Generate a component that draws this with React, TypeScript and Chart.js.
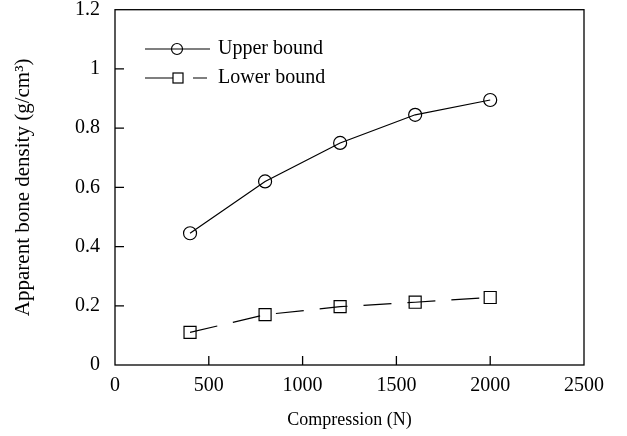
import React, { useEffect, useRef } from "react";
import { Chart, registerables } from "chart.js";

Chart.register(...registerables);

const compression = [400, 800, 1200, 1600, 2000];
const upperBound = [0.445, 0.62, 0.75, 0.845, 0.895];
const lowerBound = [0.11, 0.17, 0.197, 0.212, 0.228];
const seriesLabels = ["Upper bound", "Lower bound"];
const xTicks = [0, 500, 1000, 1500, 2000, 2500];
const xTickLabels = ["0", "500", "1000", "1500", "2000", "2500"];
const yTicks = [0, 0.2, 0.4, 0.6, 0.8, 1, 1.2];
const yTickLabels = ["0", "0.2", "0.4", "0.6", "0.8", "1", "1.2"];
const xTitle = "Compression (N)";
const yTitle = "Apparent bone density (g/cm³)";

const FONT = "'Liberation Serif', 'Times New Roman', serif";

const framePlugin = {
  id: "frameTicks",
  afterDraw(chart: any) {
    const { ctx, chartArea } = chart;
    const { left, right, top, bottom } = chartArea;
    ctx.save();
    ctx.strokeStyle = "#000";
    ctx.lineWidth = 1.3;
    ctx.strokeRect(left, top, right - left, bottom - top);
    const xs = chart.scales.x;
    const ys = chart.scales.y;
    ctx.beginPath();
    xTicks.forEach((v) => {
      if (v <= xs.min || v >= xs.max) return;
      const px = xs.getPixelForValue(v);
      ctx.moveTo(px, bottom);
      ctx.lineTo(px, bottom - 9);
    });
    yTicks.forEach((v) => {
      if (v <= ys.min || v >= ys.max) return;
      const py = ys.getPixelForValue(v);
      ctx.moveTo(left, py);
      ctx.lineTo(left + 9, py);
    });
    ctx.stroke();
    ctx.restore();
  },
};

const legendPlugin = {
  id: "insideLegend",
  afterDraw(chart: any) {
    const { ctx } = chart;
    ctx.save();
    ctx.strokeStyle = "#000";
    ctx.fillStyle = "#000";
    ctx.lineWidth = 1.2;
    ctx.font = `20px ${FONT}`;
    ctx.textBaseline = "middle";
    ctx.textAlign = "left";
    // row 1: upper bound (solid line, circle)
    const y1 = 49;
    ctx.beginPath();
    ctx.moveTo(145, y1);
    ctx.lineTo(210, y1);
    ctx.stroke();
    ctx.beginPath();
    ctx.arc(177, y1, 5.5, 0, Math.PI * 2);
    ctx.stroke();
    ctx.fillText(seriesLabels[0], 218, y1);
    // row 2: lower bound (dashed, square)
    const y2 = 78;
    ctx.beginPath();
    ctx.moveTo(145, y2);
    ctx.lineTo(173, y2);
    ctx.moveTo(193, y2);
    ctx.lineTo(207, y2);
    ctx.stroke();
    ctx.strokeRect(173, y2 - 5, 10, 10);
    ctx.fillText(seriesLabels[1], 218, y2);
    ctx.restore();
  },
};

export default function App() {
  const canvasRef = useRef<HTMLCanvasElement | null>(null);

  useEffect(() => {
    const canvas = canvasRef.current;
    if (!canvas) return;
    const chart = new Chart(canvas, {
      type: "line",
      data: {
        datasets: [
          {
            label: seriesLabels[0],
            data: compression.map((x, i) => ({ x, y: upperBound[i] })),
            borderColor: "#000",
            borderWidth: 1.2,
            pointStyle: "circle",
            pointRadius: 6.5,
            pointBorderWidth: 1.2,
            pointBorderColor: "#000",
            pointBackgroundColor: "rgba(0,0,0,0)",
            tension: 0,
            fill: false,
          },
          {
            label: seriesLabels[1],
            data: compression.map((x, i) => ({ x, y: lowerBound[i] })),
            borderColor: "#000",
            borderWidth: 1.2,
            borderDash: [28, 16],
            pointStyle: "rect",
            pointRadius: 8.5,
            pointBorderWidth: 1.2,
            pointBorderColor: "#000",
            pointBackgroundColor: "rgba(0,0,0,0)",
            tension: 0,
            fill: false,
          },
        ],
      },
      options: {
        responsive: false,
        animation: false,
        layout: { padding: { top: 8, right: 43, left: 0, bottom: 0 } },
        plugins: {
          legend: { display: false },
          tooltip: { enabled: false },
          title: { display: false },
        },
        scales: {
          x: {
            type: "linear",
            min: 0,
            max: 2500,
            grid: { display: false, drawTicks: false },
            border: { display: false },
            afterBuildTicks: (scale: any) => {
              scale.ticks = xTicks.map((v) => ({ value: v }));
            },
            afterFit: (scale: any) => {
              scale.height = 71;
              scale.paddingLeft = 0;
              scale.paddingRight = 0;
            },
            ticks: {
              color: "#000",
              font: { family: FONT, size: 20 },
              padding: 9,
              maxRotation: 0,
              callback: (v: any) => {
                const i = xTicks.indexOf(Number(v));
                return i >= 0 ? xTickLabels[i] : "";
              },
            },
            title: {
              display: true,
              text: xTitle,
              color: "#000",
              font: { family: FONT, size: 18 },
              padding: { top: 0, bottom: 5 },
            },
          },
          y: {
            type: "linear",
            min: 0,
            max: 1.2,
            grid: { display: false, drawTicks: false },
            border: { display: false },
            afterBuildTicks: (scale: any) => {
              scale.ticks = yTicks.map((v) => ({ value: v }));
            },
            afterFit: (scale: any) => {
              scale.width = 115;
              scale.paddingTop = 0;
              scale.paddingBottom = 0;
            },
            ticks: {
              color: "#000",
              font: { family: FONT, size: 20 },
              padding: 15,
              callback: (v: any) => {
                const i = yTicks.findIndex((t) => Math.abs(t - Number(v)) < 1e-9);
                return i >= 0 ? yTickLabels[i] : "";
              },
            },
            title: {
              display: true,
              text: yTitle,
              color: "#000",
              font: { family: FONT, size: 21 },
              padding: { top: 11, bottom: 0 },
            },
          },
        },
      },
      plugins: [framePlugin, legendPlugin],
    } as any);
    return () => chart.destroy();
  }, []);

  return (
    <div style={{ position: "absolute", left: 0, top: 0, width: 627, height: 436, background: "#fff" }}>
      <canvas ref={canvasRef} width={627} height={436} style={{ display: "block" }} />
    </div>
  );
}
